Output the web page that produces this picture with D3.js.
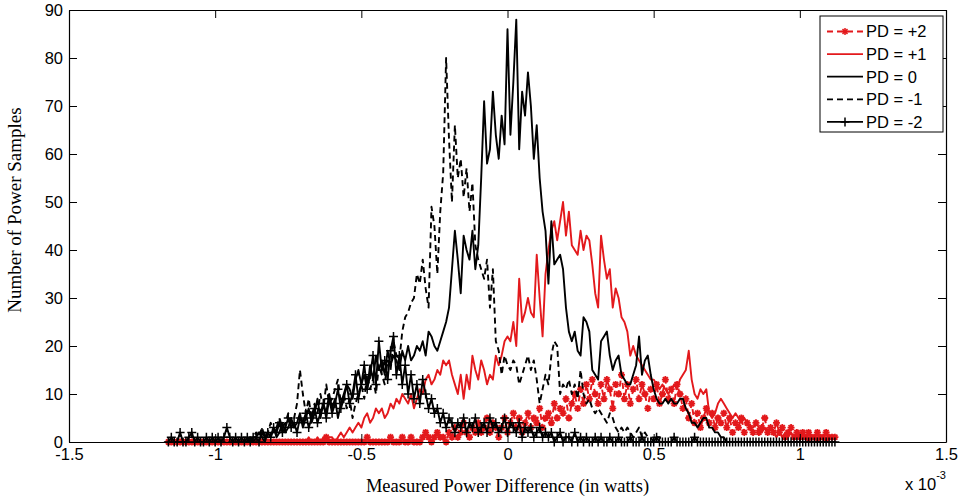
<!DOCTYPE html>
<html>
<head>
<meta charset="utf-8">
<script src="https://d3js.org/d3.v7.min.js"></script>
<style>
  body { margin: 0; background: #fff; }
  svg { display: block; }
  .tick text { font-family: "Liberation Sans", Arial, sans-serif; font-size: 16.5px; fill: #000; }
  .tick line, .domain { stroke: #000; }
</style>
</head>
<body>
<svg width="962" height="502"></svg>
<script>
// histogram bins (x in units of 1e-3 W)
var binWidth = 0.01;

var xTicks = [-1.5, -1, -0.5, 0, 0.5, 1, 1.5];
var yTicks = [0, 10, 20, 30, 40, 50, 60, 70, 80, 90];

// PD = +2, bins from -1.16 to 1.12
var pdPlus2Start = -1.16;
var pdPlus2 = [
  0,0,0,0,0,0,0,0,0,0,0,0,0,0,0,0,
  0,0,0,0,0,0,0,0,0,0,
  0,0,0,0,0,0,0,0,0,0,
  0,0,0,0,0,0,0,0,0,0,
  0,0,0,0,0,0,0,0,1,0,
  0,0,0,0,0,0,0,0,0,0,
  0,0,1,0,0,0,0,0,0,0,
  1,0,0,0,1,0,0,1,0,0,
  0,1,2,1,0,1,2,1,1,0,
  2,1,3,1,2,4,2,1,3,2,
  4,2,3,5,2,4,3,1,3,5,
  2,4,6,3,5,2,4,6,3,5,
  4,7,3,5,6,4,8,5,7,6,
  9,5,8,10,7,11,8,12,9,13,
  10,8,12,9,13,11,7,12,10,14,
  9,12,8,11,13,9,12,10,7,11,
  9,12,8,10,13,9,11,8,12,10,
  7,9,5,8,4,6,3,5,7,4,
  6,3,5,4,6,3,5,2,4,3,
  5,2,4,3,2,4,2,3,5,2,
  3,2,4,2,3,1,2,3,1,2,
  1,2,1,2,1,1,2,1,1,2,
  1,1,1
];

// PD = +1, bins from -0.70 to 1.12
var pdPlus1Start = -0.70;
var pdPlus1 = [
  0,0,1,0,0,1,0,1,0,1,
  1,0,1,2,1,2,3,2,3,4,
  3,5,6,4,5,7,6,7,5,6,
  8,7,9,8,10,9,8,10,7,9,
  11,10,13,14,12,13,15,14,17,16,
  17,14,12,10,14,9,14,11,18,15,
  13,17,15,12,14,13,18,16,18,21,
  22,21,25,20,34,25,27,30,27,26,
  39,30,22,35,40,44,46,42,46,50,
  43,48,41,40,39,44,40,43,42,37,
  31,28,43,38,34,36,28,32,30,26,
  25,23,18,20,18,17,16,15,14,13,
  13,12,11,12,11,10,11,12,11,13,
  14,15,19,13,10,9,11,10,11,6,
  5,6,8,9,8,7,6,5,6,5,
  4,5,4,3,3,4,3,2,3,2,
  3,2,1,2,1,2,1,2,1,1,
  2,1,1,0,1,1,0,1,1,0,
  1,1,1
];

// PD = 0, bins from -0.90 to 0.75
var pd0Start = -0.90;
var pd0 = [
  0,0,1,0,1,2,1,0,2,1,
  3,1,2,4,2,3,5,3,4,6,
  3,5,7,4,6,9,5,8,6,10,
  7,9,5,8,10,12,11,9,13,15,
  12,14,11,16,13,18,15,17,14,19,
  16,18,17,15,19,17,20,17,18,20,
  19,21,18,23,22,20,19,21,23,25,
  28,36,44,38,31,43,40,38,44,36,
  41,55,71,58,61,73,64,59,68,62,
  86,64,75,88,61,73,68,77,70,59,
  66,55,48,44,33,46,37,38,39,36,
  28,23,21,23,19,18,26,25,23,15,
  14,13,21,22,23,18,15,17,18,14,
  13,12,12,14,16,22,14,17,18,14,
  11,9,8,8,9,8,9,8,8,9,
  9,7,6,4,4,3,4,5,5,3,
  3,2,2,1,1,0
];

// PD = -1, bins from -0.90 to 0.53
var pdMinus1Start = -0.90;
var pdMinus1 = [
  0,1,0,1,2,1,3,1,2,4,
  2,3,5,3,4,6,4,5,8,15,
  10,6,9,5,8,6,10,7,12,8,
  9,11,13,8,10,7,9,5,8,10,
  12,9,14,11,13,10,16,14,12,17,
  15,21,18,17,23,26,27,29,30,35,
  33,38,32,28,49,45,35,48,56,80,
  63,50,66,55,59,51,57,48,54,41,
  38,36,34,38,28,36,21,19,14,18,
  16,15,17,16,12,14,16,18,15,17,
  13,8,11,14,12,18,21,20,10,12,
  11,13,10,12,9,15,10,8,9,7,
  6,7,6,5,4,6,5,3,2,3,
  2,3,2,1,2,3,1,2,1,1,
  0,1,1,0
];

// PD = -2, bins from -1.16 to 1.12
var pdMinus2Start = -1.16;
var pdMinus2 = [
  0,1,0,0,2,0,0,1,2,0,1,0,0,1,0,1,
  0,1,0,1,3,1,0,1,0,1,
  0,1,0,1,1,0,2,1,2,1,
  3,2,4,2,3,5,3,4,2,5,
  4,6,3,5,7,4,6,8,5,9,
  6,8,11,7,9,12,8,10,14,9,
  12,16,11,14,18,12,21,15,17,13,
  19,22,14,18,12,16,10,14,9,12,
  8,13,10,7,9,6,7,4,6,3,
  5,4,2,4,3,5,2,4,3,5,
  2,3,4,2,5,3,4,2,3,5,
  2,4,3,2,4,1,3,2,3,1,
  2,3,1,2,1,2,0,1,2,0,
  1,1,0,2,0,1,0,1,0,0,
  1,0,1,0,0,1,0,0,1,0,
  0,0,1,0,0,0,1,0,0,0,
  0,1,0,0,0,0,0,1,0,0,
  0,0,0,0,1,0,0,0,0,0,
  0,0,0,0,0,0,0,0,0,0,
  0,0,0,0,0,0,0,0,0,0,
  0,0,0,0,0,0,0,0,0,0,
  0,0,0,0,0,0,0,0,0,0,
  0,0,0
];

var red = "#e3191c";

// series in plotting order (also legend order)
var series = [
  { label: "PD = +2", start: pdPlus2Start, values: pdPlus2, color: red, dash: "6,4", marker: "star" },
  { label: "PD = +1", start: pdPlus1Start, values: pdPlus1, color: red, dash: null, marker: null },
  { label: "PD = 0", start: pd0Start, values: pd0, color: "#000", dash: null, marker: null },
  { label: "PD = -1", start: pdMinus1Start, values: pdMinus1, color: "#000", dash: "6,4", marker: null },
  { label: "PD = -2", start: pdMinus2Start, values: pdMinus2, color: "#000", dash: null, marker: "plus" }
];

var svg = d3.select("svg");
var width = +svg.attr("width");
var height = +svg.attr("height");
var margin = { top: 10, right: 16, bottom: 60, left: 69 };

var x = d3.scaleLinear().domain([-1.5, 1.5]).range([margin.left, width - margin.right]);
var y = d3.scaleLinear().domain([0, 90]).range([height - margin.bottom, margin.top]);

var markerPaths = {
  plus: "M-4.5,0H4.5M0,-4.5V4.5",
  star: "M-3.5,0H3.5M0,-3.5V3.5M-2.5,-2.5L2.5,2.5M-2.5,2.5L2.5,-2.5"
};

// lines
var line = d3.line().x((d) => x(d[0])).y((d) => y(d[1]));

series.forEach(function (s) {
  var pts = s.values.map((v, i) => [s.start + i * binWidth, v]);
  var g = svg.append("g");
  g.append("path")
    .datum(pts)
    .attr("d", line)
    .attr("fill", "none")
    .attr("stroke", s.color)
    .attr("stroke-width", 1.9)
    .attr("stroke-linejoin", "round")
    .attr("stroke-dasharray", s.dash);
  if (s.marker) {
    g.selectAll("path.mk")
      .data(pts)
      .enter()
      .append("path")
      .attr("class", "mk")
      .attr("d", markerPaths[s.marker])
      .attr("transform", (d) => "translate(" + x(d[0]) + "," + y(d[1]) + ")")
      .attr("fill", "none")
      .attr("stroke", s.color)
      .attr("stroke-width", s.marker == "star" ? 1.8 : 1.5);
  }
});

// axes, MATLAB style ticks pointing inwards on all four sides
var x0 = margin.left, x1 = width - margin.right;
var y0 = height - margin.bottom, y1 = margin.top;

svg.append("g")
  .attr("transform", "translate(0," + y0 + ")")
  .call(d3.axisBottom(x).tickValues(xTicks).tickSize(-8).tickSizeOuter(0).tickPadding(6).tickFormat((d) => String(d)));
svg.append("g")
  .attr("transform", "translate(0," + y1 + ")")
  .call(d3.axisTop(x).tickValues(xTicks).tickSize(-8).tickSizeOuter(0).tickFormat(""));
svg.append("g")
  .attr("transform", "translate(" + x0 + ",0)")
  .call(d3.axisLeft(y).tickValues(yTicks).tickSize(-8).tickSizeOuter(0).tickPadding(6).tickFormat((d) => String(d)));
svg.append("g")
  .attr("transform", "translate(" + x1 + ",0)")
  .call(d3.axisRight(y).tickValues(yTicks).tickSize(-8).tickSizeOuter(0).tickFormat(""));

svg.selectAll(".domain").attr("stroke-width", 1.2);

// exponent label
var expo = svg.append("text")
  .attr("x", 905)
  .attr("y", 490)
  .style("font-family", "'Liberation Sans', Arial, sans-serif")
  .style("font-size", "16.5px");
expo.append("tspan").text("x 10");
expo.append("tspan").attr("dy", -11).style("font-size", "11px").text("-3");

// axis titles
svg.append("text")
  .attr("x", (x0 + x1) / 2)
  .attr("y", 492)
  .attr("text-anchor", "middle")
  .style("font-family", "'Liberation Serif', 'Times New Roman', serif")
  .style("font-size", "18.5px")
  .text("Measured Power Difference (in watts)");

svg.append("text")
  .attr("transform", "translate(21,210) rotate(-90)")
  .attr("text-anchor", "middle")
  .style("font-family", "'Liberation Serif', 'Times New Roman', serif")
  .style("font-size", "19px")
  .text("Number of Power Samples");

// legend
var legend = svg.append("g").attr("transform", "translate(820,16)");
legend.append("rect")
  .attr("width", 123)
  .attr("height", 116)
  .attr("fill", "#fff")
  .attr("stroke", "#000")
  .attr("stroke-width", 1);

var rows = legend.selectAll("g.row")
  .data(series)
  .enter()
  .append("g")
  .attr("class", "row")
  .attr("transform", (d, i) => "translate(0," + (15.5 + i * 22.6) + ")");

rows.append("line")
  .attr("x1", 7)
  .attr("x2", 43)
  .attr("stroke", (d) => d.color)
  .attr("stroke-width", 1.8)
  .attr("stroke-dasharray", (d) => d.dash);

rows.filter((d) => d.marker)
  .append("path")
  .attr("transform", "translate(25,0)")
  .attr("d", (d) => markerPaths[d.marker])
  .attr("fill", "none")
  .attr("stroke", (d) => d.color)
  .attr("stroke-width", 1.5);

rows.append("text")
  .attr("x", 46)
  .attr("dy", "0.36em")
  .style("font-family", "'Liberation Sans', Arial, sans-serif")
  .style("font-size", "16.5px")
  .text((d) => d.label);
</script>
</body>
</html>
